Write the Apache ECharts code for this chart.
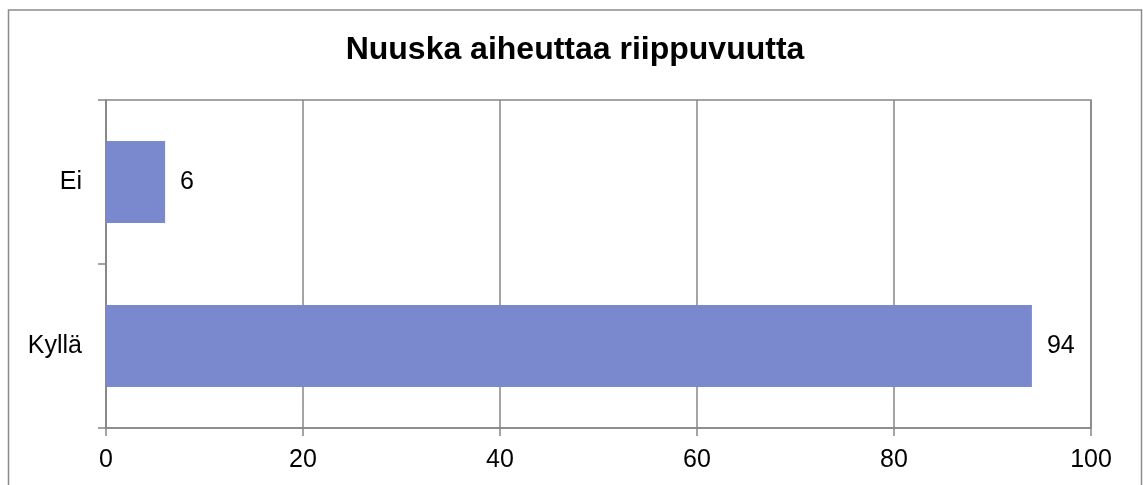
<!DOCTYPE html>
<html>
<head>
<meta charset="utf-8">
<script src="https://cdn.jsdelivr.net/npm/echarts@6/dist/echarts.min.js"></script>
<style>
html,body{margin:0;padding:0;background:#fff;}
#chart{width:1143px;height:485px;}
</style>
</head>
<body>
<div id="chart"></div>
<script>
const titleText = 'Nuuska aiheuttaa riippuvuutta';
const categories = ['Kyllä', 'Ei'];
const values = [94, 6];
const axisTicks = [0, 20, 40, 60, 80, 100];

const chart = echarts.init(document.getElementById('chart'), null, {renderer: 'canvas'});
const font = 'Liberation Sans, Arial, sans-serif';
const gray = '#878787';
chart.setOption({
  animation: false,
  backgroundColor: '#ffffff',
  title: {
    text: titleText,
    left: 575,
    top: 34,
    padding: 0,
    textAlign: 'center',
    textStyle: {fontFamily: font, fontSize: 32, fontWeight: 'bold', color: '#000'}
  },
  graphic: [{
    type: 'rect',
    shape: {x: 8.5, y: 10, width: 1133, height: 520},
    style: {fill: 'none', stroke: '#8c8c8c', lineWidth: 1.5},
    silent: true
  }],
  grid: {left: 106, right: 52, top: 100, bottom: 57, show: true, borderColor: gray, borderWidth: 1.5, backgroundColor: 'transparent'},
  xAxis: {
    type: 'value',
    min: axisTicks[0],
    max: axisTicks[axisTicks.length - 1],
    interval: axisTicks[1] - axisTicks[0],
    axisLine: {show: true, lineStyle: {color: gray, width: 1.5}},
    axisTick: {show: true, length: 8, lineStyle: {color: gray, width: 1.5}},
    splitLine: {show: true, lineStyle: {color: gray, width: 1.5}},
    axisLabel: {color: '#000', fontFamily: font, fontSize: 25, margin: 20}
  },
  yAxis: {
    type: 'category',
    data: categories,
    axisLine: {show: true, lineStyle: {color: gray, width: 1.5}},
    axisTick: {show: true, length: 8, lineStyle: {color: gray, width: 1.5}},
    splitLine: {show: false},
    axisLabel: {color: '#000', fontFamily: font, fontSize: 25, margin: 24}
  },
  series: [{
    type: 'bar',
    data: values,
    barWidth: '50%',
    itemStyle: {color: '#7a89cd'},
    label: {show: true, position: 'right', distance: 15, color: '#000', fontFamily: font, fontSize: 25}
  }]
});
</script>
</body>
</html>
